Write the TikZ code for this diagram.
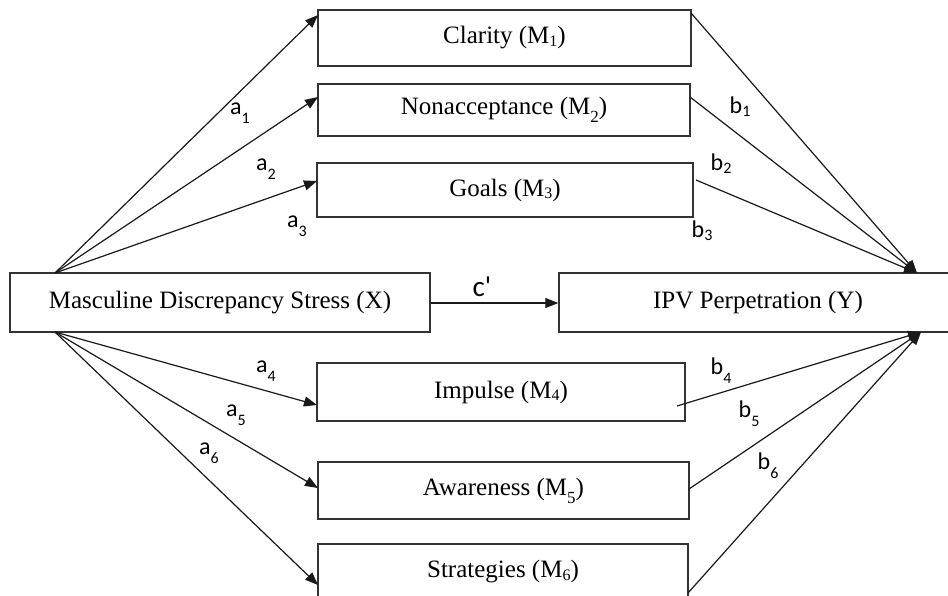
\documentclass[tikz,border=0pt]{standalone}
\usepackage{fontspec}
\setmainfont{Liberation Serif}
\newfontfamily\labfont{Carlito}
\usetikzlibrary{arrows.meta}
\newcommand\msubA[1]{\raisebox{-0.1em}{\fontsize{16}{16}\selectfont #1}}
\newcommand\msubB[1]{\raisebox{-0.32em}{\fontsize{17}{17}\selectfont #1}}
\newcommand\mylabA[2]{#1\raisebox{-0.38em}{\fontsize{16}{16}\selectfont #2}}
\newcommand\mylabB[2]{#1\raisebox{-0.12em}{\fontsize{16}{16}\selectfont #2}}
\begin{document}
\begin{tikzpicture}[x=1pt,y=-1pt,
  box/.style={draw=black!80,line width=1.4pt,inner sep=0pt,font=\fontsize{25}{30}\selectfont},
  conn/.style={line width=1.2pt,draw=black!90},
  arr/.style={conn,-{Triangle[length=13pt,width=10pt]}},
  lbl/.style={font=\labfont\fontsize{24}{28}\selectfont,inner sep=0pt}]
\useasboundingbox (0,0) rectangle (948,595);
\fill[white] (0,0) rectangle (948,595);

% boxes
\node[box,minimum width=373pt,minimum height=56pt] (M1) at (504.5,38) {Clarity (M\msubA{1})};
\node[box,minimum width=372pt,minimum height=52pt] (M2) at (504,110) {Nonacceptance (M\msubB{2})};
\node[box,minimum width=376pt,minimum height=54pt] (M3) at (505,190) {Goals (M\msubA{3})};
\node[box,minimum width=420pt,minimum height=59pt] (X) at (220,302.5) {Masculine Discrepancy Stress (X)};
\node[box,minimum width=398pt,minimum height=59pt] (Y) at (758,302.5) {IPV Perpetration (Y)};
\node[box,minimum width=368pt,minimum height=58pt] (M4) at (501,392) {Impulse (M\msubA{4})};
\node[box,minimum width=371pt,minimum height=57pt] (M5) at (503.5,490.5) {Awareness (M\msubB{5})};
\node[box,minimum width=370pt,minimum height=56pt] (M6) at (503,572) {Strategies (M\msubA{6})};

% connector end points
\coordinate (xt) at (55,273);
\coordinate (xb) at (55,332);
\coordinate (yt) at (917,273);
\coordinate (yb) at (921,332);
\coordinate (m1in) at (318,15);
\coordinate (m2in) at (318,97);
\coordinate (m3in) at (317,181);
\coordinate (m4in) at (317,405);
\coordinate (m5in) at (318,488);
\coordinate (m6in) at (318,585);
\coordinate (m1out) at (691,13);
\coordinate (m2out) at (690,97);
\coordinate (m3out) at (696,180);
\coordinate (m4out) at (677,406);
\coordinate (m5out) at (689,489);
\coordinate (m6out) at (688,593);

% a paths
\draw[arr] (xt) -- (m1in);
\draw[arr] (xt) -- (m2in);
\draw[arr] (xt) -- (m3in);
\draw[arr] (xb) -- (m4in);
\draw[arr] (xb) -- (m5in);
\draw[arr] (xb) -- (m6in);

% b paths
\draw[arr] (m1out) -- (yt);
\draw[arr] (m2out) -- (yt);
\draw[arr] (m3out) -- (yt);
\draw[arr] (m4out) -- (yb);
\draw[arr] (m5out) -- (yb);
\draw[arr] (m6out) -- (yb);

% c' path
\draw[arr] (X.east |- 0,303) -- (Y.west |- 0,303);

% labels
\node[lbl] (la1) at (240,113) {\mylabA{a}{1}};
\node[lbl] (la2) at (266,169) {\mylabA{a}{2}};
\node[lbl] (la3) at (297,226) {\mylabA{a}{3}};
\node[lbl] (la4) at (266,371) {\mylabA{a}{4}};
\node[lbl] (la5) at (236,415) {\mylabA{a}{5}};
\node[lbl] (la6) at (209,453) {\mylabA{a}{6}};
\node[lbl] (lb1) at (740,107) {\mylabB{b}{1}};
\node[lbl] (lb2) at (721,164) {\mylabB{b}{2}};
\node[lbl] (lb3) at (702,231) {\mylabB{b}{3}};
\node[lbl] (lb4) at (721,371) {\mylabA{b}{4}};
\node[lbl] (lb5) at (749,414) {\mylabA{b}{5}};
\node[lbl] (lb6) at (768,466) {\mylabA{b}{6}};
\node[lbl,font=\labfont\fontsize{29}{32}\selectfont] (lc) at (482,287) {c\textquotesingle};
\end{tikzpicture}
\end{document}
